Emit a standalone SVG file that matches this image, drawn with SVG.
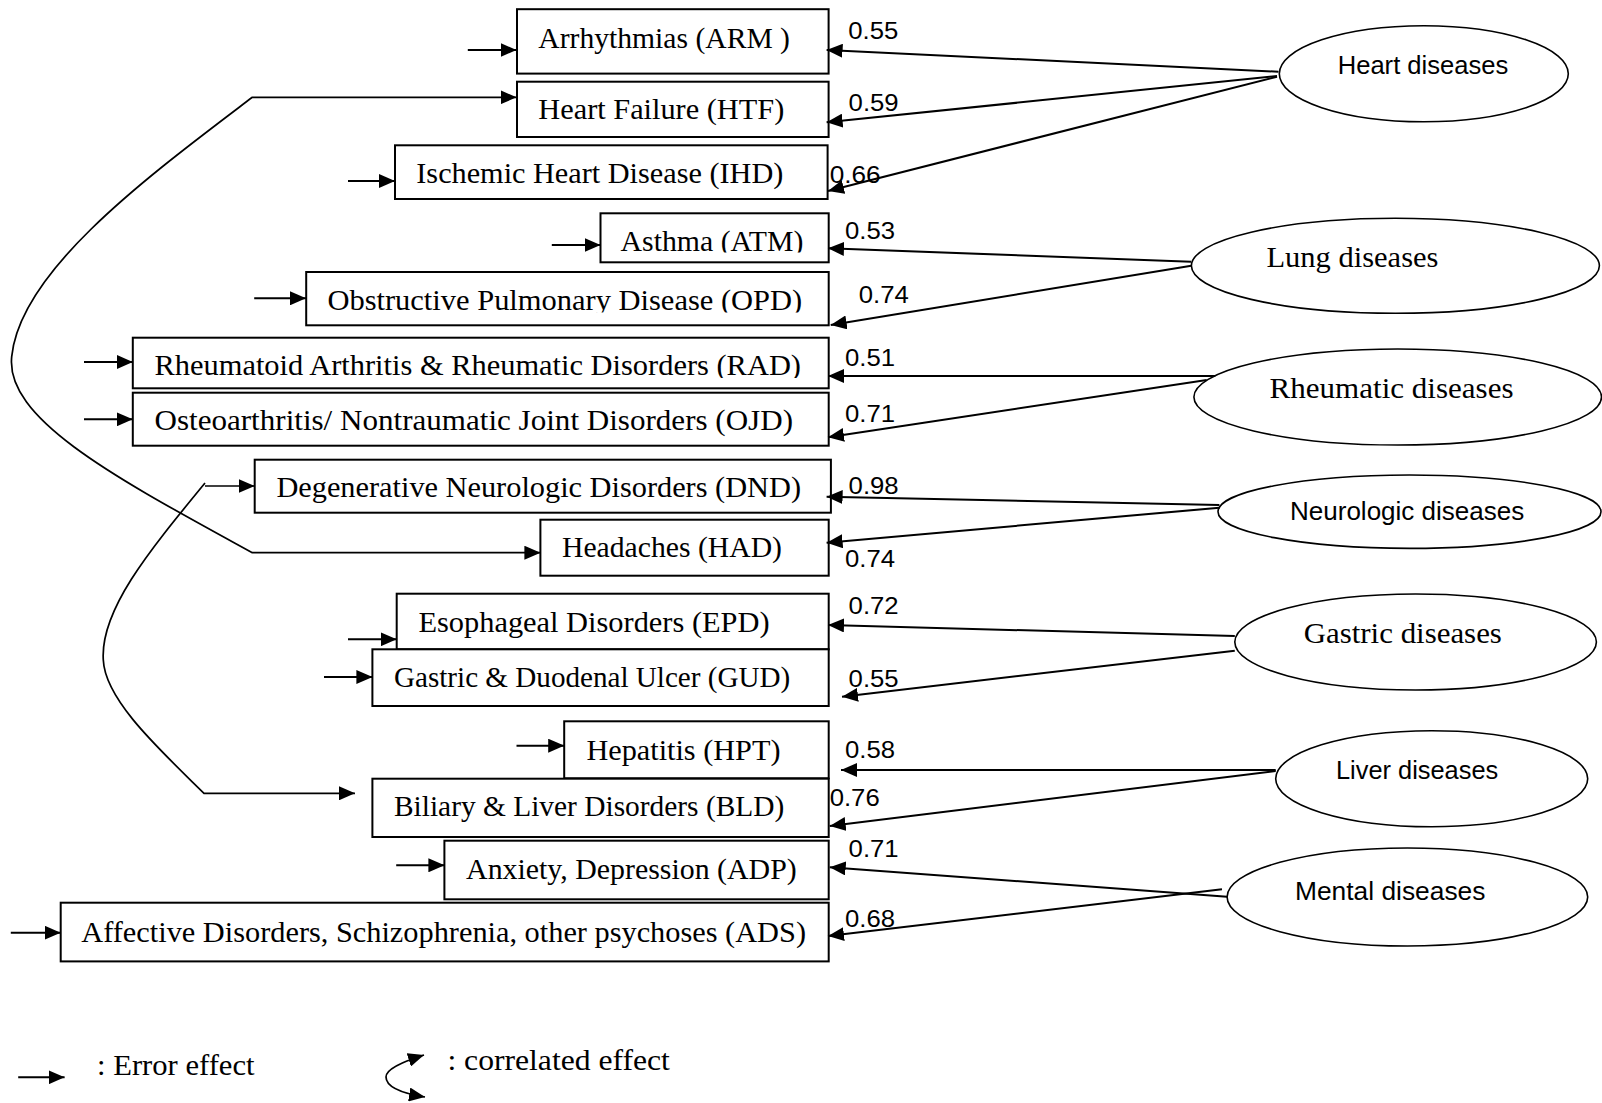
<svg xmlns="http://www.w3.org/2000/svg" width="1602" height="1103" viewBox="0 0 1602 1103">
  <style>
    .box { fill: #fff; stroke: #000; stroke-width: 2; }
    .lat { fill: #fff; stroke: #000; stroke-width: 1.6; }
    .lbl { font-family: "Liberation Serif", "Times New Roman", serif; font-size: 29.5px; fill: #000; }
    .lser { font-family: "Liberation Serif", "Times New Roman", serif; font-size: 30px; fill: #000; }
    .lsan { font-family: "Liberation Sans", Arial, sans-serif; font-size: 26px; fill: #000; }
    .num { font-family: "Liberation Sans", Arial, sans-serif; font-size: 23px; fill: #000; }
    .ln { fill: none; stroke: #000; stroke-width: 2; marker-end: url(#ah); }
    .cv { fill: none; stroke: #000; stroke-width: 1.7; }
  </style>
  <defs>
    <marker id="ah" viewBox="0 0 16 14" refX="16" refY="7" markerWidth="16" markerHeight="14" markerUnits="userSpaceOnUse" orient="auto-start-reverse">
      <path d="M0,0 L16,7 L0,14 z" fill="#000"/>
    </marker>
    <clipPath id="clipATM"><rect x="590" y="200" width="250" height="52.5"/></clipPath>
    <clipPath id="clipOPD"><rect x="300" y="260" width="540" height="52.5"/></clipPath>
    <clipPath id="clipRAD"><rect x="130" y="330" width="710" height="48"/></clipPath>
  </defs>

  <!-- observed indicators -->
  <g id="node-ARM"><rect class="box" x="517" y="9.2" width="311.6" height="64.4"/><text class="lbl" x="538.3" y="47.7" textLength="251.7" lengthAdjust="spacingAndGlyphs">Arrhythmias (ARM )</text></g>
  <g id="node-HTF"><rect class="box" x="517" y="81.7" width="311.6" height="55.3"/><text class="lbl" x="538.3" y="119.3" textLength="246" lengthAdjust="spacingAndGlyphs">Heart Failure (HTF)</text></g>
  <g id="node-IHD"><rect class="box" x="395" y="145.3" width="432.6" height="53.7"/><text class="lbl" x="416.3" y="182.7" textLength="367" lengthAdjust="spacingAndGlyphs">Ischemic Heart Disease (IHD)</text></g>
  <g id="node-ATM"><rect class="box" x="600.5" y="213.3" width="228.2" height="49"/><text class="lbl" x="620.6" y="250.7" textLength="182.7" lengthAdjust="spacingAndGlyphs" clip-path="url(#clipATM)">Asthma (ATM)</text></g>
  <g id="node-OPD"><rect class="box" x="306.2" y="272" width="522.5" height="53.3"/><text class="lbl" x="327.4" y="310" textLength="474.8" lengthAdjust="spacingAndGlyphs" clip-path="url(#clipOPD)">Obstructive Pulmonary Disease (OPD)</text></g>
  <g id="node-RAD"><rect class="box" x="132.8" y="337.7" width="695.9" height="50.6"/><text class="lbl" x="154.5" y="375" textLength="646.5" lengthAdjust="spacingAndGlyphs" clip-path="url(#clipRAD)">Rheumatoid Arthritis &amp; Rheumatic Disorders (RAD)</text></g>
  <g id="node-OJD"><rect class="box" x="132.8" y="392.7" width="695.9" height="53"/><text class="lbl" x="154.5" y="430" textLength="638.5" lengthAdjust="spacingAndGlyphs">Osteoarthritis/ Nontraumatic Joint Disorders (OJD)</text></g>
  <g id="node-DND"><rect class="box" x="254.7" y="459.7" width="576.2" height="53"/><text class="lbl" x="276.4" y="496.7" textLength="524.6" lengthAdjust="spacingAndGlyphs">Degenerative Neurologic Disorders (DND)</text></g>
  <g id="node-HAD"><rect class="box" x="540.4" y="519.7" width="288.3" height="56"/><text class="lbl" x="562" y="557.3" textLength="220" lengthAdjust="spacingAndGlyphs">Headaches (HAD)</text></g>
  <g id="node-EPD"><rect class="box" x="396.7" y="593.7" width="432" height="55.6"/><text class="lbl" x="418.4" y="631.7" textLength="351.2" lengthAdjust="spacingAndGlyphs">Esophageal Disorders (EPD)</text></g>
  <g id="node-GUD"><rect class="box" x="372.4" y="649.3" width="456.3" height="56.7"/><text class="lbl" x="394" y="687.3" textLength="396.2" lengthAdjust="spacingAndGlyphs">Gastric &amp; Duodenal Ulcer (GUD)</text></g>
  <g id="node-HPT"><rect class="box" x="564.2" y="721.3" width="264.5" height="57"/><text class="lbl" x="586.4" y="760" textLength="194.1" lengthAdjust="spacingAndGlyphs">Hepatitis (HPT)</text></g>
  <g id="node-BLD"><rect class="box" x="372.4" y="778.7" width="456.3" height="58.3"/><text class="lbl" x="394" y="816" textLength="390.3" lengthAdjust="spacingAndGlyphs">Biliary &amp; Liver Disorders (BLD)</text></g>
  <g id="node-ADP"><rect class="box" x="444.4" y="840.7" width="384.3" height="58.6"/><text class="lbl" x="466.1" y="879.3" textLength="330.6" lengthAdjust="spacingAndGlyphs">Anxiety, Depression (ADP)</text></g>
  <g id="node-ADS"><rect class="box" x="60.7" y="902.7" width="768" height="58.7"/><text class="lbl" x="81.3" y="941.7" textLength="724.7" lengthAdjust="spacingAndGlyphs">Affective Disorders, Schizophrenia, other psychoses (ADS)</text></g>

  <!-- latent factors -->
  <g id="node-heart"><ellipse class="lat" cx="1423.8" cy="73.7" rx="144.5" ry="48"/><text class="lsan" x="1337.7" y="74.3" textLength="170.6" lengthAdjust="spacingAndGlyphs">Heart diseases</text></g>
  <g id="node-lung"><ellipse class="lat" cx="1395.4" cy="265.8" rx="204" ry="47.5"/><text class="lser" x="1266.5" y="266.7" textLength="171.9" lengthAdjust="spacingAndGlyphs">Lung diseases</text></g>
  <g id="node-rheumatic"><ellipse class="lat" cx="1397.7" cy="397" rx="203.8" ry="48"/><text class="lser" x="1269.6" y="398.3" textLength="243.9" lengthAdjust="spacingAndGlyphs">Rheumatic diseases</text></g>
  <g id="node-neurologic"><ellipse class="lat" cx="1409.5" cy="511.7" rx="191.5" ry="36.7"/><text class="lsan" x="1290" y="520" textLength="234.3" lengthAdjust="spacingAndGlyphs">Neurologic diseases</text></g>
  <g id="node-gastric"><ellipse class="lat" cx="1415.6" cy="642" rx="180.8" ry="48"/><text class="lser" x="1303.7" y="643" textLength="198.2" lengthAdjust="spacingAndGlyphs">Gastric diseases</text></g>
  <g id="node-liver"><ellipse class="lat" cx="1431.7" cy="778.7" rx="156" ry="48"/><text class="lsan" x="1336" y="779" textLength="162.2" lengthAdjust="spacingAndGlyphs">Liver diseases</text></g>
  <g id="node-mental"><ellipse class="lat" cx="1407.4" cy="897" rx="180.3" ry="49"/><text class="lsan" x="1295" y="900" textLength="190.4" lengthAdjust="spacingAndGlyphs">Mental diseases</text></g>

  <!-- connectors -->
  <g id="connectors">
    <!-- factor loadings -->
    <line class="ln" x1="1278.5" y1="71.7" x2="826.6" y2="50"/>
    <line class="ln" x1="1277" y1="76" x2="826.6" y2="122.3"/>
    <line class="ln" x1="1277" y1="76.7" x2="828" y2="191"/>
    <line class="ln" x1="1191.3" y1="261.7" x2="828" y2="248.3"/>
    <line class="ln" x1="1191.3" y1="265.7" x2="830.7" y2="325"/>
    <line class="ln" x1="1215.3" y1="376" x2="828" y2="376"/>
    <line class="ln" x1="1206.7" y1="380" x2="828" y2="437.3"/>
    <line class="ln" x1="1219.4" y1="505" x2="826.6" y2="496.7"/>
    <line class="ln" x1="1219.4" y1="507.7" x2="826.6" y2="542.7"/>
    <line class="ln" x1="1234.8" y1="636" x2="828" y2="625"/>
    <line class="ln" x1="1234.8" y1="650.7" x2="842" y2="696.7"/>
    <line class="ln" x1="1275.7" y1="770" x2="841" y2="770"/>
    <line class="ln" x1="1275.7" y1="771" x2="829.7" y2="826"/>
    <line class="ln" x1="1227.1" y1="896.7" x2="829.7" y2="867.3"/>
    <line class="ln" x1="1222" y1="889.3" x2="828" y2="936"/>

    <!-- error terms -->
    <line class="ln" x1="467.8" y1="50" x2="516.5" y2="50"/>
    <line class="ln" x1="348" y1="181" x2="395" y2="181"/>
    <line class="ln" x1="551.8" y1="245" x2="600.5" y2="245"/>
    <line class="ln" x1="254.2" y1="298.3" x2="306" y2="298.3"/>
    <line class="ln" x1="84" y1="362" x2="132.8" y2="362"/>
    <line class="ln" x1="84" y1="419.3" x2="132.8" y2="419.3"/>
    <line class="ln" x1="348" y1="639.3" x2="396.7" y2="639.3"/>
    <line class="ln" x1="324" y1="677" x2="372.4" y2="677"/>
    <line class="ln" x1="516.5" y1="745.7" x2="564.2" y2="745.7"/>
    <line class="ln" x1="396.2" y1="865.3" x2="444.4" y2="865.3"/>
    <line class="ln" x1="10.8" y1="932.7" x2="60.7" y2="932.7"/>

    <!-- correlated errors -->
    <path class="cv" marker-start="url(#ah)" marker-end="url(#ah)" d="M516.5,97.3 L252.3,97.3 C150,175 20,270 11.7,356.7 C5,420 120,480 252.3,552.7 L540.4,552.7"/>
    <path class="cv" marker-end="url(#ah)" d="M205,486 L254.7,486"/>
    <path class="cv" marker-end="url(#ah)" d="M205,483 C150,550 100,610 103.3,660 C105,700 160,750 204,793.3 L355,793.3"/>

    <!-- loading values -->
    <text class="num" x="848.3" y="39" textLength="50" lengthAdjust="spacingAndGlyphs">0.55</text>
    <text class="num" x="848.6" y="110.7" textLength="50" lengthAdjust="spacingAndGlyphs">0.59</text>
    <text class="num" x="829.7" y="182.7" textLength="51" lengthAdjust="spacingAndGlyphs">0.66</text>
    <text class="num" x="845" y="239.3" textLength="50" lengthAdjust="spacingAndGlyphs">0.53</text>
    <text class="num" x="858.8" y="303.3" textLength="50" lengthAdjust="spacingAndGlyphs">0.74</text>
    <text class="num" x="845" y="366" textLength="50" lengthAdjust="spacingAndGlyphs">0.51</text>
    <text class="num" x="845" y="421.7" textLength="50" lengthAdjust="spacingAndGlyphs">0.71</text>
    <text class="num" x="848.6" y="494.3" textLength="50" lengthAdjust="spacingAndGlyphs">0.98</text>
    <text class="num" x="845" y="566.7" textLength="50" lengthAdjust="spacingAndGlyphs">0.74</text>
    <text class="num" x="848.6" y="614" textLength="50" lengthAdjust="spacingAndGlyphs">0.72</text>
    <text class="num" x="848.6" y="687.3" textLength="50" lengthAdjust="spacingAndGlyphs">0.55</text>
    <text class="num" x="845" y="758.3" textLength="50" lengthAdjust="spacingAndGlyphs">0.58</text>
    <text class="num" x="829.7" y="806" textLength="50" lengthAdjust="spacingAndGlyphs">0.76</text>
    <text class="num" x="848.6" y="856.7" textLength="50" lengthAdjust="spacingAndGlyphs">0.71</text>
    <text class="num" x="845" y="926.7" textLength="50" lengthAdjust="spacingAndGlyphs">0.68</text>
  </g>

  <!-- legend -->
  <g id="legend">
    <line class="ln" x1="18.2" y1="1077.3" x2="64.6" y2="1077.3"/>
    <text class="lser" x="97.1" y="1075" textLength="157.4" lengthAdjust="spacingAndGlyphs">: Error effect</text>
    <path class="cv" marker-start="url(#ah)" marker-end="url(#ah)" d="M424,1055 C402,1062 386,1069 386,1077 C386,1086 400,1093 425,1097"/>
    <text class="lser" x="447.4" y="1070" textLength="222.5" lengthAdjust="spacingAndGlyphs">: correlated effect</text>
  </g>
</svg>
